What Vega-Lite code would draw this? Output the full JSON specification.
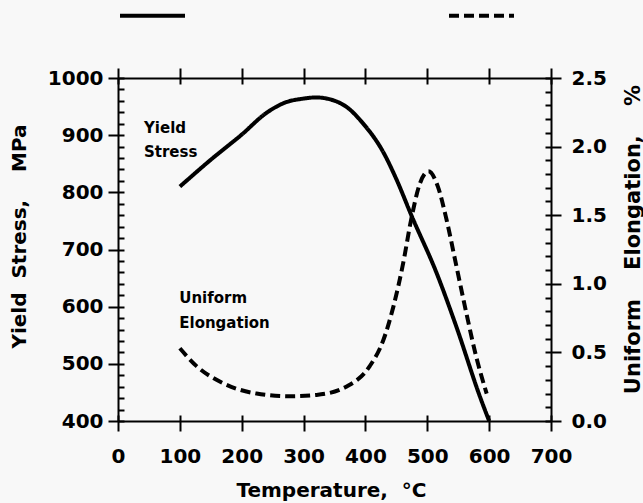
{
  "$schema": "https://vega.github.io/schema/vega-lite/v6.json",
  "autosize": {"type": "none"},
  "padding": {"left": 118, "top": 78, "right": 92, "bottom": 82},
  "width": 433,
  "height": 343,
  "background": "#f8f8f8",
  "config": {
    "view": {"stroke": null},
    "font": "DejaVu Sans",
    "axis": {
      "grid": false,
      "labelFlush": false,
      "labelOverlap": false,
      "domainColor": "#000",
      "domainWidth": 2,
      "tickColor": "#000",
      "tickWidth": 2,
      "labelColor": "#000",
      "labelFont": "DejaVu Sans",
      "labelFontWeight": "bold",
      "labelFontSize": 20,
      "titleColor": "#000",
      "titleFont": "DejaVu Sans",
      "titleFontWeight": "bold",
      "titleFontSize": 20
    }
  },
  "datasets": {
    "stress": [
      {"temp": 100, "stress": 810},
      {"temp": 150, "stress": 857},
      {"temp": 200, "stress": 901},
      {"temp": 240, "stress": 939},
      {"temp": 270, "stress": 957},
      {"temp": 300, "stress": 964},
      {"temp": 320, "stress": 966},
      {"temp": 345, "stress": 962},
      {"temp": 370, "stress": 949},
      {"temp": 395, "stress": 922},
      {"temp": 430, "stress": 868},
      {"temp": 450, "stress": 823},
      {"temp": 475, "stress": 758},
      {"temp": 515, "stress": 659},
      {"temp": 547, "stress": 565},
      {"temp": 585, "stress": 443},
      {"temp": 600, "stress": 400}
    ],
    "elong": [
      {"temp": 100, "elong": 0.53},
      {"temp": 127, "elong": 0.40},
      {"temp": 170, "elong": 0.275},
      {"temp": 224, "elong": 0.20},
      {"temp": 278, "elong": 0.18},
      {"temp": 321, "elong": 0.19},
      {"temp": 369, "elong": 0.25},
      {"temp": 407, "elong": 0.40},
      {"temp": 429, "elong": 0.59},
      {"temp": 445, "elong": 0.83},
      {"temp": 461, "elong": 1.15},
      {"temp": 474, "elong": 1.47},
      {"temp": 488, "elong": 1.73},
      {"temp": 502, "elong": 1.82},
      {"temp": 517, "elong": 1.71},
      {"temp": 531, "elong": 1.47},
      {"temp": 547, "elong": 1.13},
      {"temp": 563, "elong": 0.79},
      {"temp": 579, "elong": 0.47},
      {"temp": 596, "elong": 0.20}
    ],
    "stressLabels": [
      {"temp": 42, "stress": 913, "text": "Yield"},
      {"temp": 42, "stress": 871, "text": "Stress"}
    ],
    "elongLabels": [
      {"temp": 99, "elong": 0.896, "text": "Uniform"},
      {"temp": 99, "elong": 0.715, "text": "Elongation"}
    ]
  },
  "layer": [
    {
      "data": {"name": "stress"},
      "mark": {"type": "line", "interpolate": "monotone", "strokeWidth": 4, "color": "#000"},
      "encoding": {
        "x": {"field": "temp", "type": "quantitative",
              "scale": {"domain": [0, 700], "nice": false, "zero": false},
              "axis": {"orient": "bottom", "values": [0, 100, 200, 300, 400, 500, 600, 700],
                       "tickSize": 10, "labelPadding": 15,
                       "title": "Temperature,\u00a0\u00a0°C", "titleX": 213, "titleY": 69,
                       "titleAlign": "center", "titleBaseline": "middle", "titleAngle": 0}},
        "y": {"field": "stress", "type": "quantitative",
              "scale": {"domain": [400, 1000], "nice": false, "zero": false},
              "axis": {"orient": "left", "values": [400, 500, 600, 700, 800, 900, 1000], "format": "d",
                       "tickSize": 10, "labelPadding": 5,
                       "title": "Yield\u00a0\u00a0Stress,\u00a0\u00a0\u00a0\u00a0MPa", "titleX": -99, "titleY": 158,
                       "titleAlign": "center", "titleBaseline": "middle", "titleAngle": 270}},
        "strokeDash": {"datum": "Yield Stress", "type": "nominal",
                       "scale": {"domain": ["Yield Stress", "Uniform Elongation"], "range": [[1, 0], [10, 5]]},
                       "legend": {"orient": "none", "legendX": 0, "legendY": -97, "direction": "horizontal",
                                  "symbolType": "stroke", "symbolSize": 4225, "symbolStrokeWidth": 4,
                                  "symbolStrokeColor": "#000", "labelExpr": "''", "labelOffset": 0,
                                  "columnPadding": 248, "padding": 0, "title": null}}
      }
    },
    {
      "data": {"name": "elong"},
      "mark": {"type": "line", "interpolate": "monotone", "strokeWidth": 4, "color": "#000"},
      "encoding": {
        "x": {"field": "temp", "type": "quantitative",
              "scale": {"domain": [0, 700], "nice": false, "zero": false},
              "axis": {"orient": "top", "values": [0, 100, 200, 300, 400, 500, 600, 700],
                       "tickSize": 10, "labels": false, "title": null}},
        "y": {"field": "elong", "type": "quantitative",
              "scale": {"domain": [0, 2.5], "nice": false, "zero": false},
              "axis": {"orient": "right", "values": [0, 0.5, 1, 1.5, 2, 2.5], "format": ".1f",
                       "tickSize": 10, "labelPadding": 10,
                       "title": "Uniform\u00a0\u00a0\u00a0\u00a0Elongation,\u00a0\u00a0\u00a0\u00a0%", "titleX": 82, "titleY": 161,
                       "titleFontSize": 21,
                       "titleAlign": "center", "titleBaseline": "middle", "titleAngle": 270}},
        "strokeDash": {"datum": "Uniform Elongation", "type": "nominal"}
      }
    },
    {
      "data": {"name": "stressLabels"},
      "mark": {"type": "text", "align": "left", "baseline": "middle", "font": "DejaVu Sans",
               "fontWeight": "bold", "fontSize": 15, "color": "#000"},
      "encoding": {
        "x": {"field": "temp", "type": "quantitative",
              "scale": {"domain": [0, 700], "nice": false, "zero": false},
              "axis": {"orient": "bottom", "values": [0, 100, 200, 300, 400, 500, 600, 700],
                       "tickSize": -6, "labels": false, "domain": false, "title": null}},
        "y": {"field": "stress", "type": "quantitative",
              "scale": {"domain": [400, 1000], "nice": false, "zero": false},
              "axis": {"orient": "left",
                       "values": [400, 420, 440, 460, 480, 500, 520, 540, 560, 580, 600, 620, 640, 660, 680, 700, 720, 740, 760, 780, 800, 820, 840, 860, 880, 900, 920, 940, 960, 980, 1000],
                       "tickSize": -6, "labels": false, "domain": false, "title": null}},
        "text": {"field": "text"}
      }
    },
    {
      "data": {"name": "elongLabels"},
      "mark": {"type": "text", "align": "left", "baseline": "middle", "font": "DejaVu Sans",
               "fontWeight": "bold", "fontSize": 15, "color": "#000"},
      "encoding": {
        "x": {"field": "temp", "type": "quantitative",
              "scale": {"domain": [0, 700], "nice": false, "zero": false},
              "axis": {"orient": "top", "values": [0, 100, 200, 300, 400, 500, 600, 700],
                       "tickSize": -6, "labels": false, "domain": false, "title": null}},
        "y": {"field": "elong", "type": "quantitative",
              "scale": {"domain": [0, 2.5], "nice": false, "zero": false},
              "axis": {"orient": "right",
                       "values": [0, 0.1, 0.2, 0.3, 0.4, 0.5, 0.6, 0.7, 0.8, 0.9, 1, 1.1, 1.2, 1.3, 1.4, 1.5, 1.6, 1.7, 1.8, 1.9, 2, 2.1, 2.2, 2.3, 2.4, 2.5],
                       "tickSize": -6, "labels": false, "domain": false, "title": null}},
        "text": {"field": "text"}
      }
    }
  ],
  "resolve": {
    "scale": {"x": "independent", "y": "independent"},
    "axis": {"x": "independent", "y": "independent"}
  }
}
